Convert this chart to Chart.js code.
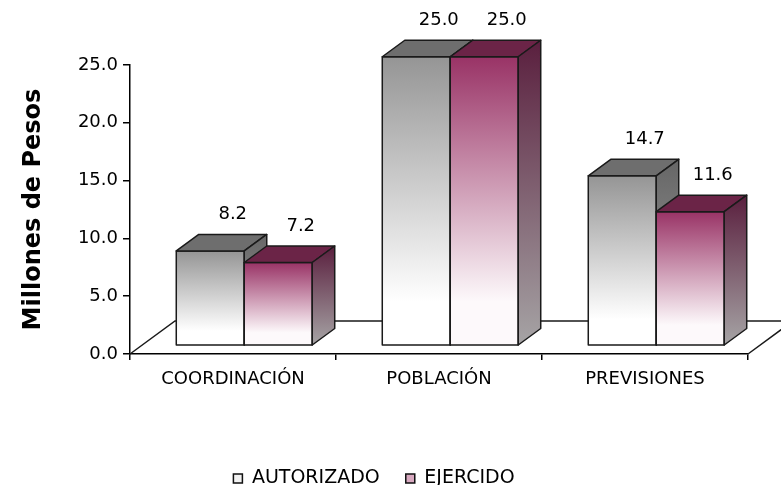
<!DOCTYPE html>
<html>
<head>
<meta charset="utf-8">
<script src="https://cdn.jsdelivr.net/npm/chart.js@4.4.1/dist/chart.umd.min.js"></script>
<style>
  html, body { margin: 0; padding: 0; background: #fff; }
</style>
</head>
<body>
<canvas id="gastoChart" width="781" height="485"></canvas>
<script>
// Data
const categories = ['COORDINACIÓN', 'POBLACIÓN', 'PREVISIONES'];
const seriesNames = ['AUTORIZADO', 'EJERCIDO'];
const autorizado = [8.2, 25.0, 14.7];
const ejercido = [7.2, 25.0, 11.6];
const yTicks = [0, 5, 10, 15, 20, 25];

const FONT = 'DejaVu Sans';

// 3D look: floor depth, bars sit in the middle half of it
const DEPTH = { x: 45, y: -33 };

const palettes = [
    { front: ['#959595', '#ffffff'], top: '#6e6e6e', side: ['#666666', '#a2a2a2'], legend: '#f2f2f2' },
    { front: ['#993366', '#fdf9fb'], top: '#6b2447', side: ['#5a1f3e', '#a6a4a5'], legend: '#d8a9c0' }
];

function drawBlock(ctx, x0, x1, yTop, yBot, pal) {
    const fx = DEPTH.x * 0.25, fy = DEPTH.y * 0.25;
    const dx = DEPTH.x * 0.5, dy = DEPTH.y * 0.5;
    x0 += fx; x1 += fx; yTop += fy; yBot += fy;

    ctx.lineWidth = 1.5;
    ctx.strokeStyle = '#1a1a1a';
    ctx.lineJoin = 'round';

    // front face
    const gFront = ctx.createLinearGradient(0, yTop, 0, yBot);
    gFront.addColorStop(0, pal.front[0]);
    gFront.addColorStop(0.85, pal.front[1]);
    gFront.addColorStop(1, pal.front[1]);
    ctx.fillStyle = gFront;
    ctx.beginPath();
    ctx.rect(x0, yTop, x1 - x0, yBot - yTop);
    ctx.fill();
    ctx.stroke();

    // top face
    ctx.fillStyle = pal.top;
    ctx.beginPath();
    ctx.moveTo(x0, yTop);
    ctx.lineTo(x0 + dx, yTop + dy);
    ctx.lineTo(x1 + dx, yTop + dy);
    ctx.lineTo(x1, yTop);
    ctx.closePath();
    ctx.fill();
    ctx.stroke();

    // right side
    const gSide = ctx.createLinearGradient(0, yTop + dy, 0, yBot);
    gSide.addColorStop(0, pal.side[0]);
    gSide.addColorStop(1, pal.side[1]);
    ctx.fillStyle = gSide;
    ctx.beginPath();
    ctx.moveTo(x1, yTop);
    ctx.lineTo(x1 + dx, yTop + dy);
    ctx.lineTo(x1 + dx, yBot + dy);
    ctx.lineTo(x1, yBot);
    ctx.closePath();
    ctx.fill();
    ctx.stroke();

    return { cx: (x0 + x1) / 2 + dx, yBack: yTop + dy };
}

const bars3d = {
    id: 'bars3d',
    beforeDatasetsDraw(chart) {
        const { ctx, chartArea: a } = chart;
        // floor outline (front edge is the x axis line)
        ctx.save();
        ctx.strokeStyle = '#1a1a1a';
        ctx.lineWidth = 1.5;
        ctx.beginPath();
        ctx.moveTo(a.left, a.bottom);
        ctx.lineTo(a.left + DEPTH.x, a.bottom + DEPTH.y);
        ctx.lineTo(a.right + DEPTH.x, a.bottom + DEPTH.y);
        ctx.lineTo(a.right, a.bottom);
        ctx.stroke();
        ctx.restore();
    },
    afterDatasetsDraw(chart) {
        const ctx = chart.ctx;
        ctx.save();
        categories.forEach((cat, j) => {
            chart.data.datasets.forEach((ds, i) => {
                const bar = chart.getDatasetMeta(i).data[j];
                const { x, y, base, width } = bar.getProps(['x', 'y', 'base', 'width'], true);
                const p = drawBlock(ctx, x - width / 2, x + width / 2, y, base, palettes[i]);
                // value label above the block
                ctx.fillStyle = '#000';
                ctx.font = '18px "' + FONT + '"';
                ctx.textAlign = 'center';
                ctx.textBaseline = 'middle';
                ctx.fillText(ds.data[j].toFixed(1), p.cx, p.yBack - 20);
            });
        });
        ctx.restore();
    }
};

new Chart(document.getElementById('gastoChart'), {
    type: 'bar',
    data: {
        labels: categories,
        datasets: [
            { label: seriesNames[0], data: autorizado },
            { label: seriesNames[1], data: ejercido }
        ].map(ds => ({ ...ds, backgroundColor: 'transparent', borderWidth: 0,
                       categoryPercentage: 0.66, barPercentage: 1.0 }))
    },
    options: {
        responsive: false,
        animation: false,
        layout: { padding: { top: 65, right: 33, left: 0, bottom: -13 } },
        plugins: {
            tooltip: { enabled: false },
            legend: {
                position: 'bottom',
                labels: {
                    color: '#000',
                    font: { family: FONT, size: 19 },
                    boxWidth: 9,
                    boxHeight: 9,
                    padding: 26,
                    generateLabels: () => seriesNames.map((name, i) => ({
                        text: name,
                        fillStyle: palettes[i].legend,
                        strokeStyle: '#111',
                        lineWidth: 1.5,
                        datasetIndex: i
                    }))
                }
            }
        },
        scales: {
            x: {
                grid: { offset: true, drawOnChartArea: false, tickLength: 6, color: '#000', lineWidth: 1.5 },
                border: { display: true, color: '#000', width: 1.5 },
                ticks: { color: '#000', font: { family: FONT, size: 18 }, padding: 9 },
                afterFit: s => { s.height = 89; }
            },
            y: {
                min: 0,
                max: 25,
                afterBuildTicks: s => { s.ticks = yTicks.map(v => ({ value: v })); },
                grid: { drawOnChartArea: false, tickLength: 7, color: '#000', lineWidth: 1.5 },
                border: { display: true, color: '#000', width: 1.5 },
                ticks: { color: '#000', font: { family: FONT, size: 18 }, padding: 5,
                         callback: v => Number(v).toFixed(1) },
                title: { display: true, text: 'Millones de Pesos', color: '#000',
                         font: { family: FONT, size: 24, weight: 'bold' }, padding: { top: 19 } },
                afterFit: s => { s.width = 130; }
            }
        }
    },
    plugins: [bars3d]
});
</script>
</body>
</html>
